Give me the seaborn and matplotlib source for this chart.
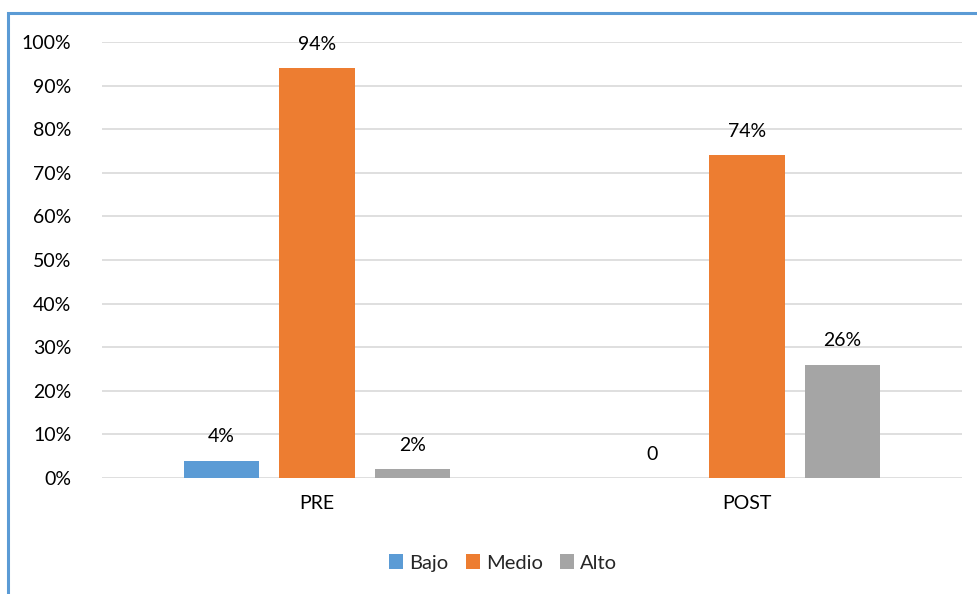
import matplotlib
matplotlib.use("Agg")
import matplotlib.pyplot as plt
from matplotlib.patches import Rectangle
from matplotlib.ticker import PercentFormatter
import seaborn as sns
import pandas as pd

# Chart data
fases = ["PRE", "POST"]
niveles = ["Bajo", "Medio", "Alto"]
bajo = [4, 0]
medio = [94, 74]
alto = [2, 26]
etiquetas = [["4%", "94%", "2%"], ["0", "74%", "26%"]]
colores = ["#5B9BD5", "#ED7D31", "#A5A5A5"]

rows = []
for i, f in enumerate(fases):
    for nivel, serie in zip(niveles, [bajo, medio, alto]):
        rows.append({"Fase": f, "Nivel": nivel, "Valor": serie[i]})
df = pd.DataFrame(rows)

sns.set_theme(style="white")
plt.rcParams["font.family"] = ["Lato", "DejaVu Sans"]

fig = plt.figure(figsize=(9.77, 5.94), dpi=100)
ax = fig.add_axes([102 / 977, 1 - 478 / 594, 860 / 977, 436 / 594])

sns.barplot(data=df, x="Fase", y="Valor", hue="Nivel", hue_order=niveles,
            palette=colores, width=0.665, gap=0.21, saturation=1,
            linewidth=0, legend=True, ax=ax, errorbar=None)

ax.set_xlim(-0.5, 1.5)
ax.set_ylim(0, 100)
ax.set_yticks(range(0, 101, 10))
ax.yaxis.set_major_formatter(PercentFormatter(decimals=0))
ax.grid(axis="y", color="#D9D9D9", linewidth=1.2)
ax.set_axisbelow(True)
for s in ax.spines.values():
    s.set_visible(False)
ax.set_xlabel("")
ax.set_ylabel("")
ax.tick_params(axis="both", length=0, labelsize=14, colors="#000000")
ax.tick_params(axis="y", pad=22)
ax.tick_params(axis="x", pad=12)

# Value labels above each bar
for container, k in zip(ax.containers, range(len(niveles))):
    for j, bar in enumerate(container):
        h = bar.get_height()
        ax.text(bar.get_x() + bar.get_width() / 2, h + 3.5, etiquetas[j][k],
                ha="center", va="bottom", fontsize=14, color="#000000")

leg = ax.legend(loc="center", bbox_to_anchor=(503 / 977, 1 - 563 / 594),
                bbox_transform=fig.transFigure, ncol=3, frameon=False,
                fontsize=14.5, handlelength=0.7, handleheight=0.7,
                handletextpad=0.3, columnspacing=0.85)

# Chart frame
fig.patches.append(Rectangle((8 / 977, -0.05), 1.1, 1 - 13 / 594 + 0.05,
                             transform=fig.transFigure, fill=False,
                             edgecolor="#5B9BD5", linewidth=2.2))

fig.savefig("out.png", dpi=100)
